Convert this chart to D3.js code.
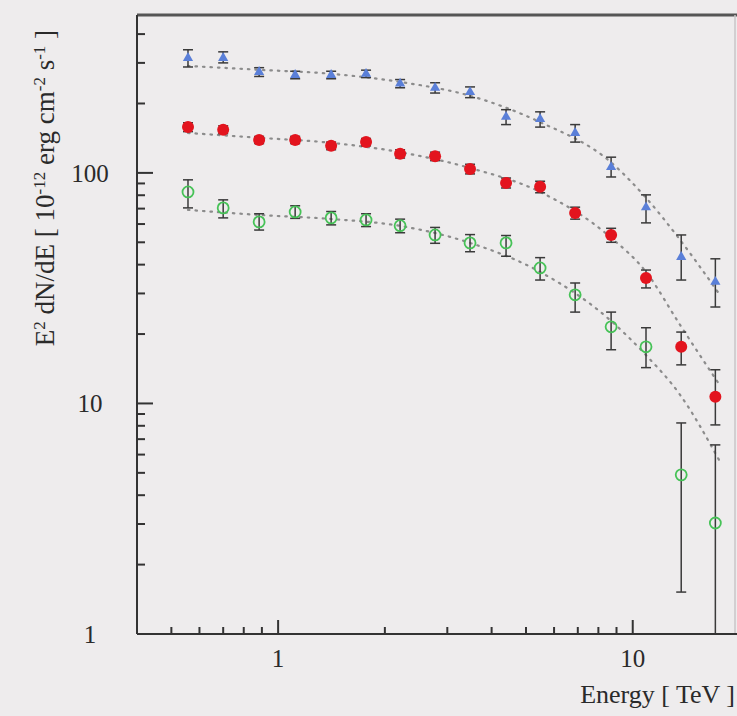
<!DOCTYPE html>
<html>
<head>
<meta charset="utf-8">
<script src="https://cdn.jsdelivr.net/npm/d3@7"></script>
<style>
  html, body { margin: 0; padding: 0; background: #eeeced; }
  svg { display: block; }
</style>
</head>
<body>
<div id="chart"></div>
<script>
// energies of the bins (TeV)
let energy = [0.557, 0.700, 0.884, 1.117, 1.411, 1.770, 2.208, 2.771, 3.477, 4.393, 5.48, 6.88, 8.69, 10.9, 13.7, 17.1]

// blue triangles
let blueVal = [315, 315, 274, 266, 266, 269, 244, 234, 224, 175, 171, 149, 106, 70.9, 43.2, 33.7]
let blueLo  = [288, 300, 262, 256, 256, 259, 234, 222, 212, 162, 158, 136, 96, 60.7, 34.3, 26.2]
let blueHi  = [342, 335, 286, 276, 276, 279, 254, 246, 236, 188, 184, 162, 117, 80.3, 53.8, 42.4]

// red filled circles
let redVal = [158, 154, 139, 139, 131, 136, 121, 118, 104, 90.5, 87, 67, 53.8, 35.0, 17.6, 10.7]
let redLo  = [151, 148, 134, 134, 126, 131, 116, 113, 99, 86, 82, 63, 50, 31.7, 14.7, 8.07]
let redHi  = [165, 160, 144, 144, 136, 141, 126, 123, 109, 95, 92, 71, 57.5, 37.9, 20.4, 14.0]

// green open circles
let greenVal = [82.7, 70.5, 61.3, 67.7, 63.8, 62.5, 59.0, 53.8, 49.7, 49.7, 38.7, 29.6, 21.5, 17.6, 4.9, 3.03]
let greenLo  = [70.5, 63.8, 56.5, 63.5, 59.5, 58.5, 55.0, 49.5, 45.5, 43.5, 34.3, 24.9, 17.1, 14.3, 1.52, 0.5]
let greenHi  = [93.3, 76.4, 66.5, 72.0, 68.0, 66.5, 63.0, 58.0, 54.0, 53.5, 42.9, 33.3, 24.9, 21.3, 8.23, 6.61]

// dotted model curves
let curveE      = [0.557, 0.884, 1.411, 2.208, 3.477, 5.48, 8.63, 10.9, 13.6, 17.6]
let blueCurve   = [291, 280, 269, 248, 216, 166, 112, 78, 51.2, 29.6]
let redCurve    = [149, 142, 135, 123, 105, 82.7, 52.8, 37.2, 21.9, 12.0]
let greenCurveE = [0.557, 0.884, 1.411, 2.208, 3.477, 5.48, 8.63, 10.9, 13.6, 17.5]
let greenCurve  = [69.1, 65.7, 63.1, 58.9, 49.7, 37.2, 23.0, 16.2, 10.9, 5.7]

let xMajor = [1, 10]
let xMinor = [0.5, 0.6, 0.7, 0.8, 0.9, 2, 3, 4, 5, 6, 7, 8, 9, 20]
let yMajor = [1, 10, 100]
let yMinor = [2, 3, 4, 5, 6, 7, 8, 9, 20, 30, 40, 50, 60, 70, 80, 90, 200, 300, 400]

let width = 737, height = 716
let mLeft = 137, mTop = 15, mBottom = 634

let svg = d3.select("#chart").append("svg")
  .attr("width", width)
  .attr("height", height)

svg.append("rect")
  .attr("width", width).attr("height", height)
  .attr("fill", "#eeeced")

let x = d3.scaleLog().domain([0.4, 21]).range([mLeft, 747])
let y = d3.scaleLog().domain([1, 484]).range([mBottom, mTop])

svg.append("clipPath").attr("id", "clip")
  .append("rect")
  .attr("x", mLeft).attr("y", mTop)
  .attr("width", width - mLeft).attr("height", mBottom - mTop)

let plot = svg.append("g").attr("clip-path", "url(#clip)")

// model curves
let line = d3.line()
  .x(d => x(d[0]))
  .y(d => y(d[1]))
  .curve(d3.curveMonotoneX)

let curves = [
  [curveE, blueCurve],
  [curveE, redCurve],
  [greenCurveE, greenCurve]
]
curves.forEach(c => {
  plot.append("path")
    .datum(c[0].map((e, i) => [e, c[1][i]]))
    .attr("d", line)
    .attr("fill", "none")
    .attr("stroke", "#8c8c8c")
    .attr("stroke-width", 2.2)
    .attr("stroke-linecap", "round")
    .attr("stroke-dasharray", "1.5,6")
})

let series = [
  { val: greenVal, lo: greenLo, hi: greenHi, kind: "green" },
  { val: redVal, lo: redLo, hi: redHi, kind: "red" },
  { val: blueVal, lo: blueLo, hi: blueHi, kind: "blue" }
]

series.forEach(s => {
  let pts = energy.map((e, i) => ({ e: e, v: s.val[i], lo: s.lo[i], hi: s.hi[i] }))
  let g = plot.append("g")

  // error bars
  let eb = g.selectAll(".eb").data(pts).enter().append("g")
  eb.append("line")
    .attr("x1", d => x(d.e)).attr("x2", d => x(d.e))
    .attr("y1", d => y(d.lo)).attr("y2", d => y(d.hi))
    .attr("stroke", "#3a3a3a").attr("stroke-width", 1.5)
  eb.append("line")
    .attr("x1", d => x(d.e) - 5).attr("x2", d => x(d.e) + 5)
    .attr("y1", d => y(d.lo)).attr("y2", d => y(d.lo))
    .attr("stroke", "#3a3a3a").attr("stroke-width", 1.5)
  eb.append("line")
    .attr("x1", d => x(d.e) - 5).attr("x2", d => x(d.e) + 5)
    .attr("y1", d => y(d.hi)).attr("y2", d => y(d.hi))
    .attr("stroke", "#3a3a3a").attr("stroke-width", 1.5)

  if (s.kind == "blue") {
    g.selectAll(".m").data(pts).enter().append("path")
      .attr("d", d3.symbol().type(d3.symbolTriangle).size(45))
      .attr("transform", d => "translate(" + x(d.e) + "," + y(d.v) + ")")
      .attr("fill", "#5a7fd8")
  } else if (s.kind == "red") {
    g.selectAll(".m").data(pts).enter().append("circle")
      .attr("cx", d => x(d.e)).attr("cy", d => y(d.v))
      .attr("r", 6)
      .attr("fill", "#e3141e")
  } else {
    g.selectAll(".m").data(pts).enter().append("circle")
      .attr("cx", d => x(d.e)).attr("cy", d => y(d.v))
      .attr("r", 5.5)
      .attr("fill", "none")
      .attr("stroke", "#46c257")
      .attr("stroke-width", 1.8)
  }
})

// frame
svg.append("line")
  .attr("x1", mLeft).attr("x2", width).attr("y1", mTop).attr("y2", mTop)
  .attr("stroke", "#555").attr("stroke-width", 3)
svg.append("line")
  .attr("x1", 735).attr("x2", 735).attr("y1", mTop).attr("y2", mBottom)
  .attr("stroke", "#c8c6c7").attr("stroke-width", 1.5)

// axes with inward ticks
let gx = svg.append("g").attr("transform", "translate(0," + mBottom + ")")
gx.append("line").attr("x1", mLeft).attr("x2", width).attr("stroke", "#333").attr("stroke-width", 2)
gx.selectAll(".minor").data(xMinor).enter().append("line")
  .attr("x1", d => x(d)).attr("x2", d => x(d))
  .attr("y1", 0).attr("y2", -7)
  .attr("stroke", "#333").attr("stroke-width", 2)
gx.selectAll(".major").data(xMajor).enter().append("line")
  .attr("x1", d => x(d)).attr("x2", d => x(d))
  .attr("y1", 0).attr("y2", -14)
  .attr("stroke", "#333").attr("stroke-width", 2)
gx.selectAll(".lab").data(xMajor).enter().append("text")
  .attr("x", d => x(d)).attr("y", 33)
  .attr("text-anchor", "middle")
  .attr("font-family", "Liberation Serif")
  .attr("font-size", 25)
  .attr("fill", "#2a2a2a")
  .text(d => d)

let gy = svg.append("g").attr("transform", "translate(" + mLeft + ",0)")
gy.append("line").attr("y1", mTop).attr("y2", mBottom).attr("stroke", "#333").attr("stroke-width", 2)
gy.selectAll(".minor").data(yMinor).enter().append("line")
  .attr("y1", d => y(d)).attr("y2", d => y(d))
  .attr("x1", 0).attr("x2", 8)
  .attr("stroke", "#333").attr("stroke-width", 2)
gy.selectAll(".major").data(yMajor).enter().append("line")
  .attr("y1", d => y(d)).attr("y2", d => y(d))
  .attr("x1", 0).attr("x2", 16)
  .attr("stroke", "#333").attr("stroke-width", 2)
gy.selectAll(".lab").data(yMajor).enter().append("text")
  .attr("x", -47).attr("y", d => y(d) + 9)
  .attr("text-anchor", "middle")
  .attr("font-family", "Liberation Serif")
  .attr("font-size", 25)
  .attr("fill", "#2a2a2a")
  .text(d => d)

// axis titles
svg.append("text")
  .attr("x", 735).attr("y", 703)
  .attr("text-anchor", "end")
  .attr("font-family", "Liberation Serif")
  .attr("font-size", 26)
  .attr("fill", "#2a2a2a")
  .text("Energy [ TeV ]")

let yt = svg.append("text")
  .attr("transform", "translate(54,188) rotate(-90)")
  .attr("text-anchor", "middle")
  .attr("font-family", "Liberation Serif")
  .attr("font-size", 27)
  .attr("fill", "#2a2a2a")
let parts = [["E", 0], ["2", 1], [" dN/dE [ 10", 0], ["-12", 1], [" erg cm", 0], ["-2", 1], [" s", 0], ["-1", 1], [" ]", 0]]
parts.forEach(p => {
  let t = yt.append("tspan").text(p[0])
  if (p[1]) t.attr("baseline-shift", "super").attr("font-size", 17)
})
</script>
</body>
</html>
